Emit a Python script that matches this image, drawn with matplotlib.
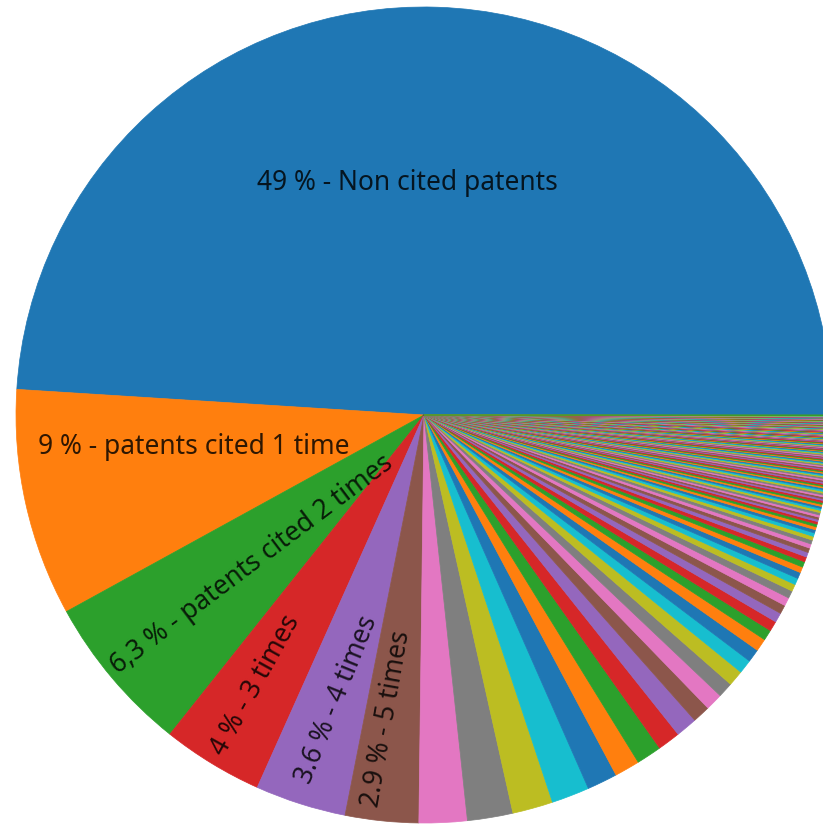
import numpy as np
import matplotlib.pyplot as plt

# share of patents (%) by number of times cited
top_shares = [49, 9, 6.3, 4, 3.6, 2.9]
top_labels = ["49 % - Non cited patents",
              "9 % - patents cited 1 time",
              "6,3 % - patents cited 2 times",
              "4 % - 3 times",
              "3.6 % - 4 times",
              "2.9 % - 5 times"]

# cited 6 times and more (unlabelled)
tail_shares = [1.9, 1.8, 1.6, 1.5, 1.2, 1.0, 1.0, 0.9, 0.85, 0.7,
               0.68, 0.6, 0.62, 0.55, 0.52, 0.5, 0.42, 0.4,
               0.38, 0.35, 0.33, 0.3, 0.28, 0.26, 0.25, 0.23, 0.22, 0.2,
               0.19, 0.18, 0.17, 0.16, 0.15, 0.14, 0.13, 0.12, 0.11, 0.1,
               0.09, 0.09, 0.09, 0.09, 0.09, 0.08, 0.08, 0.08, 0.08, 0.08,
               0.07, 0.07, 0.07, 0.07, 0.07, 0.07,
               0.06, 0.06, 0.06, 0.06, 0.06, 0.06, 0.06, 0.06,
               0.05, 0.05, 0.05, 0.05, 0.05, 0.05, 0.05, 0.05, 0.05, 0.05,
               0.04, 0.04, 0.04, 0.04, 0.04, 0.04, 0.04, 0.04, 0.04, 0.04, 0.04, 0.04,
               0.03, 0.03, 0.03, 0.03, 0.03, 0.03, 0.03, 0.03, 0.03, 0.03,
               0.03, 0.03, 0.03, 0.03, 0.03,
               0.02, 0.02, 0.02, 0.02, 0.02, 0.02, 0.02, 0.02, 0.02, 0.02,
               0.02, 0.02, 0.02, 0.02, 0.02, 0.02, 0.02, 0.02, 0.02, 0.02,
               0.02, 0.02, 0.02, 0.02, 0.02,
               0.01, 0.01, 0.01, 0.01, 0.01, 0.01, 0.01, 0.01, 0.01, 0.01,
               0.01, 0.01, 0.01, 0.01, 0.01, 0.01, 0.01, 0.01, 0.01, 0.01,
               0.01, 0.01, 0.01, 0.01, 0.01, 0.01, 0.01, 0.01, 0.01, 0.01,
               0.01, 0.01, 0.01, 0.01, 0.01, 0.01, 0.01, 0.01, 0.01, 0.01,
               0.01, 0.01, 0.01, 0.01, 0.01, 0.01, 0.01, 0.01, 0.01, 0.01,
               0.01, 0.01, 0.01]

shares = top_shares + tail_shares

# where each label sits: (radius, angle in deg) and text rotation
label_pos = [(0.57, 94), (0.57, 188), (0.56, 221), (0.78, 238), (0.73, 253), (0.75, 263)]
label_rot = [0, 0, 37, 61, 68, 80]

fig = plt.figure(figsize=(8.23, 8.24), dpi=100)
ax = fig.add_axes([0, 0, 1, 1])

colors = plt.rcParams['axes.prop_cycle'].by_key()['color']
wedges, _ = ax.pie(shares, startangle=0, counterclock=True,
                   colors=[colors[i % len(colors)] for i in range(len(shares))])
# hide the hairline gaps between neighbouring wedges
for w in wedges:
    w.set_edgecolor(w.get_facecolor())
    w.set_linewidth(0.5)

for txt, (r, ang), rot in zip(top_labels, label_pos, label_rot):
    a = np.deg2rad(ang)
    ax.text(r*np.cos(a), r*np.sin(a), txt, rotation=rot, rotation_mode='anchor',
            ha='center', va='center', fontsize=19, family='Noto Sans',
            color='black', alpha=0.82)

# pie is a bit off-centre and clipped on the right
ax.set_aspect('auto')
ax.set_xlim(-424/408, 399/408)
ax.set_ylim(-409/408, 415/408)
ax.axis('off')

fig.savefig('out.png', dpi=100)
